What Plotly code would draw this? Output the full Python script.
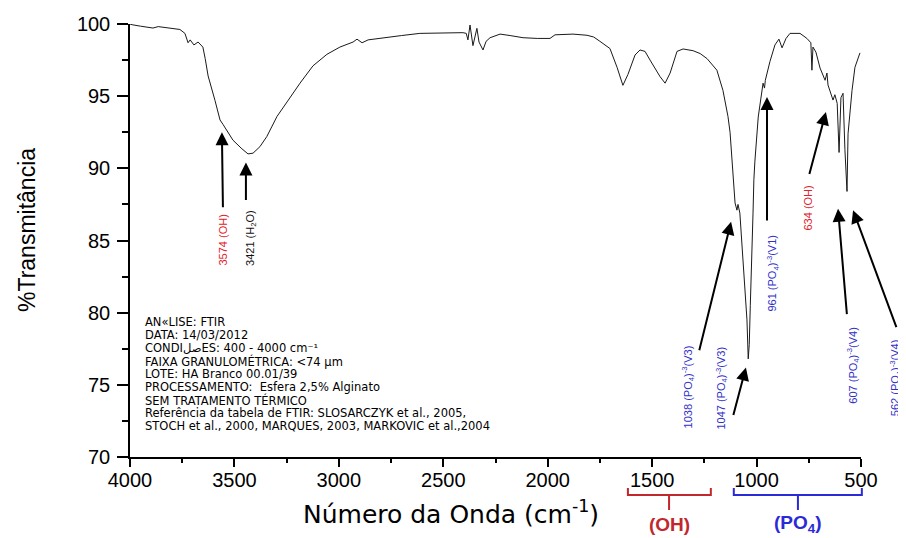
import plotly.graph_objects as go

# ---------------- data ----------------
wavenumber = [4000, 3990, 3950, 3920, 3890, 3865, 3842, 3800, 3761, 3737, 3722, 3712, 3703,
              3694, 3674, 3651, 3640, 3626, 3593, 3569, 3555, 3536, 3507, 3464, 3435,
              3411, 3378, 3345, 3296, 3248, 3186, 3124, 3057, 2995, 2932, 2913, 2889,
              2860, 2837, 2700, 2612, 2500, 2406, 2390, 2382, 2372, 2358, 2339, 2329,
              2310, 2295, 2276, 2228, 2180, 2118, 2050, 1989, 1965, 1920, 1879, 1812,
              1780, 1750, 1702, 1668, 1640, 1616, 1582, 1558, 1534, 1510, 1462, 1438,
              1414, 1381, 1352, 1304, 1270, 1237, 1190, 1161, 1137, 1127, 1118, 1110,
              1103, 1094, 1089, 1080, 1065, 1046, 1040, 1035, 1030, 1024, 1017, 1013,
              1008, 992, 974, 969, 962, 958, 936, 912, 893, 878, 859, 840, 792, 759,
              740, 735, 730, 716, 696, 672, 663, 658, 634, 625, 614, 605, 596, 586,
              577, 567, 562, 543, 529, 505]
transmittance = [100.0, 99.95, 99.85, 99.8, 99.72, 99.82, 99.78, 99.7, 99.62, 99.35, 98.7, 98.9,
                 98.75, 98.55, 98.75, 98.4, 97.6, 96.4, 94.7, 93.35, 93.05, 92.65, 91.95,
                 91.35, 91.0, 91.05, 91.5, 92.2, 93.6, 94.6, 95.9, 97.1, 97.9, 98.4, 98.75,
                 98.95, 98.7, 98.9, 98.95, 99.2, 99.35, 99.4, 99.4, 99.35, 98.9, 99.93,
                 98.5, 99.7, 98.75, 98.2, 98.8, 99.05, 99.3, 99.2, 99.05, 99.0, 99.0,
                 99.25, 99.3, 99.3, 99.22, 99.1, 98.8, 98.3, 97.0, 95.75, 96.5, 97.85,
                 98.2, 98.1, 97.5, 96.35, 95.9, 96.6, 98.1, 98.27, 98.15, 97.95, 97.6,
                 96.8, 95.4, 93.6, 92.5, 90.5, 88.6, 87.6, 87.1, 87.5, 86.9, 83.4, 79.5,
                 76.8, 77.8, 80.5, 83.0, 86.9, 89.2, 90.5, 93.56, 95.65, 95.9, 95.56,
                 96.1, 97.4, 98.55, 98.95, 98.35, 99.0, 99.35, 99.35, 99.0, 98.7, 96.8,
                 98.4, 98.06, 96.95, 96.1, 96.6, 95.77, 94.73, 95.1, 94.5, 91.1, 94.9,
                 95.2, 91.3, 88.4, 92.4, 95.4, 97.0, 98.0]

x_ticks = [4000, 3500, 3000, 2500, 2000, 1500, 1000, 500]
y_ticks = [70, 75, 80, 85, 90, 95, 100]

band_labels = ["3574 (OH)", "3421 (H<sub>2</sub>O)",
               "1038 (PO<sub>4</sub>)<sup>-3</sup>(V3)", "1047 (PO<sub>4</sub>)<sup>-3</sup>(V3)",
               "961 (PO<sub>4</sub>)<sup>-3</sup>(V1)", "634 (OH)",
               "607 (PO<sub>4</sub>)<sup>-3</sup>(V4)", "562 (PO<sub>4</sub>)<sup>-3</sup>(V4)"]

info_lines = ["AN«LISE: FTIR",
              "DATA: 14/03/2012",
              "CONDI\u0635\u0644ES: 400 - 4000 cm\u207b\u00b9",
              "FAIXA GRANULOMÉTRICA: <74 µm",
              "LOTE: HA Branco 00.01/39",
              "PROCESSAMENTO:  Esfera 2,5% Alginato",
              "SEM TRATAMENTO TÉRMICO",
              "Referência da tabela de FTIR: SLOSARCZYK et al., 2005,",
              "STOCH et al., 2000, MARQUES, 2003, MARKOVIC et al.,2004"]

x_title = "Número da Onda (cm<sup>-1</sup>)"
y_title = "%Transmitância"

# ---------------- styling / placement ----------------
FONT = "Arial, Liberation Sans, Helvetica, sans-serif"
WIDE = "DejaVu Sans, Verdana, sans-serif"
RED = "#e0202a"
BLUE = "#3030c8"
OFF = 8                      # page body margin
W, H = 898, 530
ML, MR, MT, MB = 122, 45, 16, 81
PW, PH = W - ML - MR, H - MT - MB
XMAX, XMIN = 4000, 500


def px_x(xd):
    return (XMAX - xd) / (XMAX - XMIN)


def win_x_paper(win_x):
    return (win_x - OFF - ML) / PW


def py_paper(win_y):
    return (H - MB - (win_y - OFF)) / PH


fig = go.Figure()
fig.add_trace(go.Scatter(x=wavenumber, y=transmittance, mode="lines",
                         line=dict(color="#1a1a1a", width=1), showlegend=False,
                         hoverinfo="x+y"))

# arrows: (head_x, head_y, tail_x, tail_y)
arrows = [(3560, 92.5, 3555, 87.2), (3445, 90.4, 3445, 87.7),
          (1122, 86.3, 1276, 77.3), (1051, 76.2, 1113, 72.8),
          (950, 94.94, 950, 86.28), (668, 93.9, 749, 89.5),
          (610, 87.2, 567, 79.8), (538, 87.1, 328, 78.9)]
label_pos = [(3555, 86.97, RED), (3421, 87.25, "#111111"),
             (1324, 77.9, BLUE), (1170, 77.76, BLUE),
             (921, 85.52, BLUE), (754, 88.98, RED),
             (538, 79.14, BLUE), (335, 78.3, BLUE)]

annotations = []
for (hx, hy, tx, ty) in arrows:
    annotations.append(dict(x=hx, y=hy, ax=tx, ay=ty, xref="x", yref="y",
                            axref="x", ayref="y", text="", showarrow=True,
                            arrowhead=2, arrowsize=1.3, arrowwidth=2,
                            arrowcolor="black"))
for txt, (lx, ly, col) in zip(band_labels, label_pos):
    annotations.append(dict(x=px_x(lx), y=ly, xref="paper", yref="y", text=txt,
                            showarrow=False, textangle=-90, xanchor="center",
                            yanchor="top", font=dict(family=FONT, size=11, color=col)))

info_y = [322, 335, 348, 361, 374, 387, 400, 413, 426]
for line, yy in zip(info_lines, info_y):
    annotations.append(dict(x=win_x_paper(143), y=py_paper(yy), xref="paper", yref="paper",
                            text=line, showarrow=False, xanchor="left", yanchor="middle",
                            font=dict(family=WIDE, size=11.5, color="black")))

# axis titles (placed where the reference has them)
annotations.append(dict(x=win_x_paper(451), y=py_paper(512), xref="paper", yref="paper",
                        text=x_title, showarrow=False, xanchor="center", yanchor="middle",
                        font=dict(family=WIDE, size=25, color="black")))
annotations.append(dict(x=win_x_paper(27), y=py_paper(230), xref="paper", yref="paper",
                        text=y_title, showarrow=False, textangle=-90, xanchor="center",
                        yanchor="middle", font=dict(family=FONT, size=23, color="black")))

# group brackets
groups = [("(OH)", 1616, 1219, 1419, "#c0282d"),
          ("(PO<sub>4</sub>)", 1109, 496, 802, "#2a2ad6")]
shapes = []
ytop, yh, ystem = py_paper(488), py_paper(495), py_paper(510)
for name, x1, x2, xc, col in groups:
    a, b, c = px_x(x1), px_x(x2), px_x(xc)
    path = (f"M {a},{ytop} L {a},{yh} L {b},{yh} L {b},{ytop} "
            f"M {c},{yh} L {c},{ystem}")
    shapes.append(dict(type="path", path=path, xref="paper", yref="paper",
                       line=dict(color=col, width=2)))
    annotations.append(dict(x=c, y=py_paper(524), xref="paper", yref="paper",
                            text=f"<b>{name}</b>", showarrow=False,
                            xanchor="center", yanchor="middle",
                            font=dict(family=FONT, size=19, color=col)))

axis_common = dict(showline=True, linecolor="black", linewidth=1.5, ticks="outside",
                   tickcolor="black", showgrid=False, zeroline=False, mirror=False,
                   automargin=False,
                   tickfont=dict(family=FONT, size=20, color="black"))

fig.update_layout(
    width=W, height=H, autosize=False,
    margin=dict(l=ML, r=MR, t=MT, b=MB, pad=0, autoexpand=False),
    plot_bgcolor="white", paper_bgcolor="white",
    showlegend=False,
    xaxis=dict(range=[XMAX, XMIN], tickvals=x_ticks, ticklen=8, tickwidth=1.5,
               ticklabelstandoff=-4,
               minor=dict(dtick=250, ticklen=4, tickcolor="black", ticks="outside"),
               **axis_common),
    yaxis=dict(range=[70, 100], tickvals=y_ticks, ticklen=11, tickwidth=1.5,
               ticklabelstandoff=3,
               minor=dict(dtick=2.5, ticklen=6, tickcolor="black", ticks="outside"),
               **axis_common),
    annotations=annotations,
    shapes=shapes,
)

fig.write_html("out.html")
